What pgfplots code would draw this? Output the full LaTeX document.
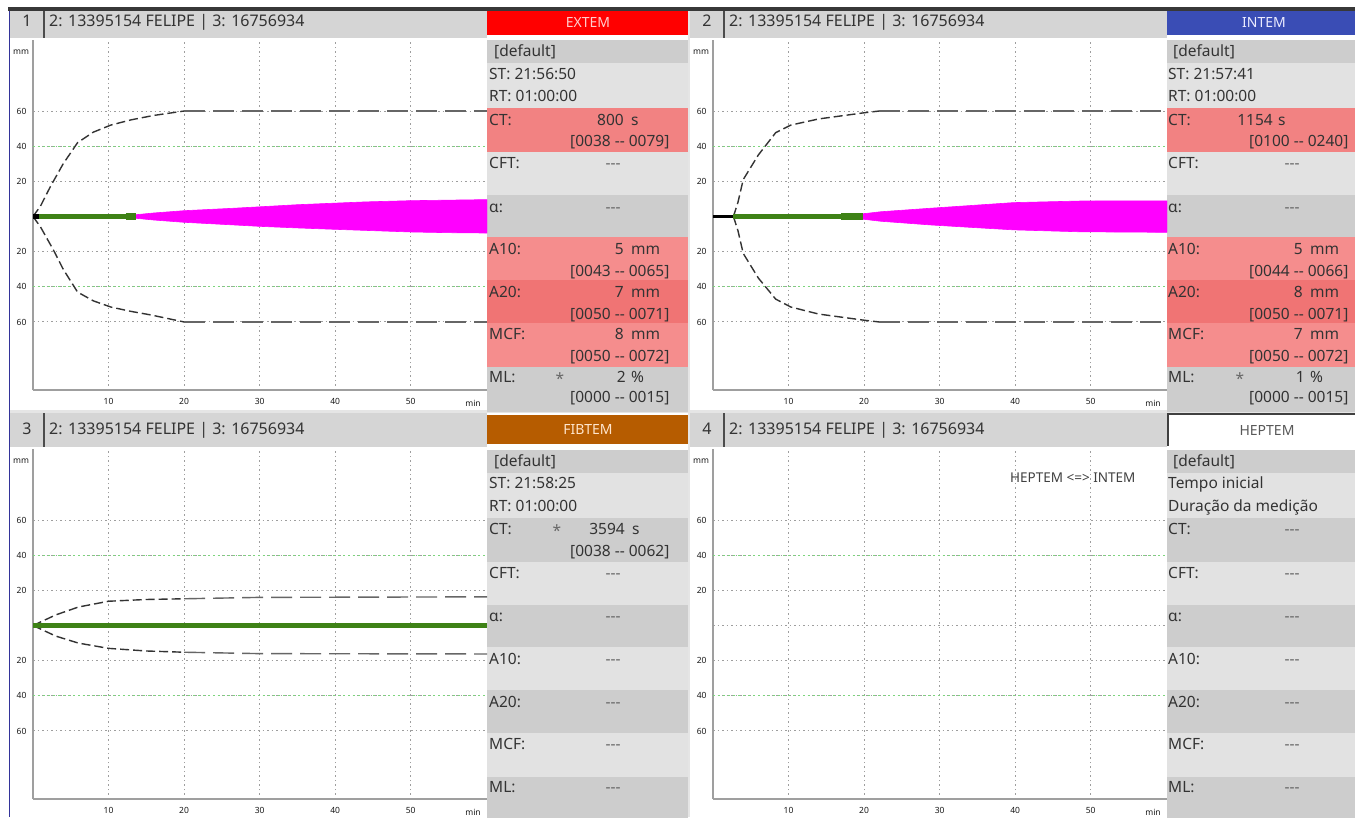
\documentclass[border=0pt]{standalone}
\usepackage{pgfplots}
\pgfplotsset{compat=1.18}
\usepackage{fontspec}
\setmainfont{Noto Sans}[Ligatures=TeXOff]
\definecolor{hdrgray}{HTML}{D5D5D5}
\definecolor{grayL}{HTML}{E2E2E2}
\definecolor{grayD}{HTML}{CDCDCD}
\definecolor{pinkA}{HTML}{F28282}
\definecolor{pinkB}{HTML}{F58D8D}
\definecolor{pinkC}{HTML}{F07474}
\definecolor{extem}{HTML}{FF0000}
\definecolor{intem}{HTML}{3A4DB5}
\definecolor{fibtem}{HTML}{B65C00}
\definecolor{sig}{RGB}{62,130,22}
\definecolor{txt}{HTML}{333333}
\definecolor{gridg}{HTML}{7CD67C}
\definecolor{gridgray}{HTML}{9E9E9E}
\definecolor{envA}{HTML}{333333}
\definecolor{envB}{HTML}{666666}
\definecolor{magb}{HTML}{FF00FF}

\newcommand{\pf}{\fontsize{15.5}{18}\selectfont}
\newcommand{\hf}{\fontsize{16}{18}\selectfont}
\newcommand{\tf}{\fontsize{8.5}{9}\selectfont\bfseries}
\tikzset{pnode/.style={inner sep=0pt,font=\pf,text=txt,text height=11pt,text depth=3pt}}
\newcommand{\lbl}[3]{\node[pnode,anchor=west] at (#1pt,-#2pt) {#3};}
\newcommand{\rlbl}[3]{\node[pnode,anchor=east] at (#1pt,-#2pt) {#3};}
\newcommand{\clbl}[3]{\node[pnode,anchor=center,text=black!60] at (#1pt,-#2pt) {#3};}
\newcommand{\hdr}[5]{%
 \fill[hdrgray] (#1pt+10pt,-#2pt) rectangle (#1pt+487pt,-#3pt);
 \draw[black!70,line width=1.5pt] (#1pt+44pt,-#2pt) -- (#1pt+44pt,-#3pt);
 \node[pnode,font=\hf] at (#1pt+27pt,-#4pt) {#5};
 \node[pnode,font=\hf,anchor=west] at (#1pt+49pt,-#4pt) {2: 13395154 FELIPE | 3: 16756934};
}
\newcommand{\siderows}[9]{%
 \fill[grayD] (#1pt,-#2pt-40pt) rectangle (#1pt+201pt,-#2pt-63pt);
 \fill[grayL] (#1pt,-#2pt-63pt) rectangle (#1pt+201pt,-#2pt-108pt);
 \fill[#3] (#1pt,-#2pt-108pt) rectangle (#1pt+201pt,-#2pt-152pt);
 \fill[#4] (#1pt,-#2pt-152pt) rectangle (#1pt+201pt,-#2pt-195pt);
 \fill[#5] (#1pt,-#2pt-195pt) rectangle (#1pt+201pt,-#2pt-237pt);
 \fill[#6] (#1pt,-#2pt-237pt) rectangle (#1pt+201pt,-#2pt-280pt);
 \fill[#7] (#1pt,-#2pt-280pt) rectangle (#1pt+201pt,-#2pt-323pt);
 \fill[#8] (#1pt,-#2pt-323pt) rectangle (#1pt+201pt,-#2pt-367pt);
 \fill[#9] (#1pt,-#2pt-367pt) rectangle (#1pt+201pt,-#2pt-412pt);
}

\pgfplotsset{
 rotem/.style={
  anchor=south west, scale only axis, width=454pt, height=350pt,
  xmin=0, xmax=60.1, ymin=-98.7, ymax=100.4,
  axis lines*=left, axis line style={draw=gray!75, line width=1.6pt, -},
  xtick={10,20,30,40,50}, xticklabels={10,20,30,40,50},
  ytick={-60,-40,-20,20,40,60}, yticklabels={60,40,20,20,40,60},
  grid=major, grid style={draw=gridgray, line width=1pt, dash pattern=on 1.5pt off 3pt},
  major tick length=0pt,
  tick label style={font=\tf, text=black!90},
  xticklabel style={yshift=-5pt},
  yticklabel style={xshift=-3pt},
  /pgf/number format/assume math mode=true,
  clip=true,
 },
 gline/.style={draw=gridg, line width=1.2pt, dash pattern=on 2pt off 3pt, forget plot},
 envA/.style={draw=envA, line width=1.4pt, dash pattern=on 9pt off 4pt},
 envB/.style={draw=envB, line width=1.4pt, dash pattern=on 21pt off 8pt},
 sigl/.style={draw=sig, line width=5pt},
}

\begin{document}
\begin{tikzpicture}
\useasboundingbox (0,0) rectangle (1355pt,-817pt);
\clip (0,0) rectangle (1355pt,-817pt);
\fill[white] (0,0) rectangle (1355pt,-817pt);
\fill[black!78] (8pt,-7pt) rectangle (1355pt,-11pt);
\fill[black!10] (688pt,-11pt) rectangle (690pt,-817pt);
\fill[black!10] (10pt,-410pt) rectangle (1355pt,-413pt);
\draw[blue!50!black!80,line width=1.5pt] (9.5pt,-11pt) -- (9.5pt,-817pt);

% ---------- headers ----------
\hdr{0}{11}{38}{22}{1}
\hdr{680}{11}{38}{22}{2}
\hdr{0}{413}{447}{430}{3}
\hdr{680}{413}{447}{430}{4}

\fill[extem] (487pt,-11pt) rectangle (688pt,-35pt);
\node[pnode,font=\fontsize{14}{16}\selectfont,text=red!20] at (588pt,-23pt) {EXTEM};
\fill[intem] (1167pt,-11pt) rectangle (1355pt,-35pt);
\node[pnode,font=\fontsize{14}{16}\selectfont,text=blue!8] at (1264pt,-23pt) {INTEM};
\fill[fibtem] (487pt,-415pt) rectangle (688pt,-444pt);
\node[pnode,font=\fontsize{14}{16}\selectfont,text=orange!20] at (588pt,-430pt) {FIBTEM};
\draw[black!75,line width=1.5pt] (1167.75pt,-446pt) -- (1167.75pt,-413.75pt) -- (1356pt,-413.75pt);
\node[pnode,font=\fontsize{14}{16}\selectfont,text=black!65] at (1267pt,-431pt) {HEPTEM};

% ---------- side rows ----------
\siderows{487}{0}{pinkA}{grayL}{grayD}{pinkB}{pinkC}{pinkB}{grayD}
\siderows{1167}{0}{pinkA}{grayL}{grayD}{pinkB}{pinkC}{pinkB}{grayD}
\siderows{487}{410}{grayD}{grayL}{grayD}{grayL}{grayD}{grayL}{grayD}
\siderows{1167}{410}{grayD}{grayL}{grayD}{grayL}{grayD}{grayL}{grayD}

% panel 1 text
\lbl{494}{52}{[default]}
\lbl{489}{75}{ST: 21:56:50}
\lbl{489}{97}{RT: 01:00:00}
\lbl{489}{121}{CT:}\rlbl{624}{121}{800}\lbl{631}{121}{s}
\lbl{570}{142}{[0038 -- 0079]}
\lbl{489}{164}{CFT:}\clbl{613}{164}{---}
\lbl{489}{208}{α:}\clbl{613}{208}{---}
\lbl{489}{250}{A10:}\rlbl{624}{250}{5}\lbl{631}{250}{mm}
\lbl{570}{272}{[0043 -- 0065]}
\lbl{489}{293}{A20:}\rlbl{624}{293}{7}\lbl{631}{293}{mm}
\lbl{570}{315}{[0050 -- 0071]}
\lbl{489}{335}{MCF:}\rlbl{624}{335}{8}\lbl{631}{335}{mm}
\lbl{570}{357}{[0050 -- 0072]}
\lbl{489}{378}{ML:}\clbl{560}{380}{*}\rlbl{626}{378}{2}\lbl{631}{378}{\%}
\lbl{570}{398}{[0000 -- 0015]}

% panel 2 text
\lbl{1173}{52}{[default]}
\lbl{1168}{75}{ST: 21:57:41}
\lbl{1168}{97}{RT: 01:00:00}
\lbl{1168}{121}{CT:}\rlbl{1273}{121}{1154}\lbl{1278}{121}{s}
\lbl{1249}{142}{[0100 -- 0240]}
\lbl{1168}{164}{CFT:}\clbl{1292}{164}{---}
\lbl{1168}{208}{α:}\clbl{1292}{208}{---}
\lbl{1168}{250}{A10:}\rlbl{1303}{250}{5}\lbl{1310}{250}{mm}
\lbl{1249}{272}{[0044 -- 0066]}
\lbl{1168}{293}{A20:}\rlbl{1303}{293}{8}\lbl{1310}{293}{mm}
\lbl{1249}{315}{[0050 -- 0071]}
\lbl{1168}{335}{MCF:}\rlbl{1303}{335}{7}\lbl{1310}{335}{mm}
\lbl{1249}{357}{[0050 -- 0072]}
\lbl{1168}{378}{ML:}\clbl{1240}{380}{*}\rlbl{1305}{378}{1}\lbl{1310}{378}{\%}
\lbl{1249}{398}{[0000 -- 0015]}

% panel 3 text
\lbl{494}{462}{[default]}
\lbl{489}{484}{ST: 21:58:25}
\lbl{489}{507}{RT: 01:00:00}
\lbl{489}{530}{CT:}\clbl{557}{532}{*}\rlbl{625}{530}{3594}\lbl{632}{530}{s}
\lbl{570}{552}{[0038 -- 0062]}
\lbl{489}{574}{CFT:}\clbl{613}{574}{---}
\lbl{489}{617}{α:}\clbl{613}{617}{---}
\lbl{489}{660}{A10:}\clbl{613}{660}{---}
\lbl{489}{703}{A20:}\clbl{613}{703}{---}
\lbl{489}{745}{MCF:}\clbl{613}{745}{---}
\lbl{489}{788}{ML:}\clbl{613}{788}{---}

% panel 4 text
\lbl{1173}{462}{[default]}
\lbl{1168}{484}{Tempo inicial}
\lbl{1168}{507}{Duração da medição}
\lbl{1168}{530}{CT:}\clbl{1292}{530}{---}
\lbl{1168}{574}{CFT:}\clbl{1292}{574}{---}
\lbl{1168}{617}{α:}\clbl{1292}{617}{---}
\lbl{1168}{660}{A10:}\clbl{1292}{660}{---}
\lbl{1168}{703}{A20:}\clbl{1292}{703}{---}
\lbl{1168}{745}{MCF:}\clbl{1292}{745}{---}
\lbl{1168}{788}{ML:}\clbl{1292}{788}{---}

% axis unit labels
\node[font=\tf,text=black!90] at (21pt,-52pt) {mm};
\node[font=\tf,text=black!90] at (701pt,-52pt) {mm};
\node[font=\tf,text=black!90] at (21pt,-461pt) {mm};
\node[font=\tf,text=black!90] at (701pt,-461pt) {mm};
\node[font=\tf,text=black!90] at (473pt,-403pt) {min};
\node[font=\tf,text=black!90] at (1153pt,-403pt) {min};
\node[font=\tf,text=black!90] at (473pt,-812pt) {min};
\node[font=\tf,text=black!90] at (1153pt,-812pt) {min};

% ---------- panel 1: EXTEM ----------
\begin{axis}[rotem, at={(33pt,-390pt)}]
\addplot[gline] coordinates {(0,40)(60.1,40)};
\addplot[gline] coordinates {(0,-40)(60.1,-40)};
\addplot[envA] coordinates {(0,0)(1,6)(2.3,17)(4,30)(5.9,42)(8,48)(10.3,52)(13,55)(16,57.5)(20,60)};
\addplot[envB] coordinates {(20,60)(60.1,60)};
\addplot[envA] coordinates {(0,0)(1,-6)(2.7,-19)(4,-30)(5.9,-43)(8,-48)(10.3,-51.5)(13,-54)(15.6,-56)(20,-60)};
\addplot[envB] coordinates {(20,-60)(60.1,-60)};
\addplot[fill=magb, draw=magb, line width=0.6pt] coordinates {(13.6,1)(16,2)(20,3.3)(26.6,4.7)(30,5.5)(35,6.7)(40,7.6)(44,8.3)(50,9)(55,9.3)(60.1,9.6)(60.1,-9.4)(55,-9.2)(50,-8.8)(44,-7.9)(40,-7.3)(35,-6.5)(30,-5.6)(26.6,-4.8)(20,-3.3)(16,-2)(13.6,-1)};
\addplot[sigl] coordinates {(0,0)(13.6,0)};
\addplot[draw=sig, line width=7pt] coordinates {(12.3,0)(13.6,0)};
\addplot[draw=black, line width=5pt] coordinates {(0,0)(0.8,0)};
\end{axis}

% ---------- panel 2: INTEM ----------
\begin{axis}[rotem, at={(713pt,-390pt)}]
\addplot[gline] coordinates {(0,40)(60.1,40)};
\addplot[gline] coordinates {(0,-40)(60.1,-40)};
\addplot[envA] coordinates {(2.7,0)(3.3,8)(4,21)(6,35)(8.3,47.7)(10.3,52)(14,55.5)(20,59)(22,60)};
\addplot[envB] coordinates {(22,60)(60.1,60)};
\addplot[envA] coordinates {(2.7,0)(3.3,-8)(4,-21)(6,-35)(8.3,-47)(10.3,-51.5)(14,-55.5)(20,-59)(22,-60)};
\addplot[envB] coordinates {(22,-60)(60.1,-60)};
\addplot[fill=magb, draw=magb, line width=0.6pt] coordinates {(19.8,1.5)(22.2,2.7)(28.8,4.7)(35,6.5)(39.8,7.9)(48.6,8.8)(60.1,8.9)(60.1,-9)(48.6,-8.7)(39.8,-7.6)(35,-6.4)(28.8,-4.8)(22.2,-2.7)(19.8,-1.5)};
\addplot[draw=black, line width=3.5pt] coordinates {(0,0)(2.7,0)};
\addplot[sigl] coordinates {(2.7,0)(19.8,0)};
\addplot[draw=sig, line width=7pt] coordinates {(17,0)(19.8,0)};
\end{axis}

% ---------- panel 3: FIBTEM ----------
\begin{axis}[rotem, at={(33pt,-799pt)}]
\addplot[gline] coordinates {(0,40)(60.1,40)};
\addplot[gline] coordinates {(0,-40)(60.1,-40)};
\addplot[envA] coordinates {(0,0)(3,6)(6,10.5)(10,13.8)(15,14.8)(20,15.2)};
\addplot[envB] coordinates {(20,15.2)(30,16)(60.1,16.3)};
\addplot[envA] coordinates {(0,0)(3,-6)(6,-10)(10,-13)(15,-14.5)(20,-15.2)};
\addplot[envB] coordinates {(20,-15.2)(30,-16)(60.1,-16.2)};
\addplot[sigl, line width=5.5pt] coordinates {(0,0)(60.1,0)};
\end{axis}

% ---------- panel 4: HEPTEM ----------
\begin{axis}[rotem, at={(713pt,-799pt)}, ytick={-60,-40,-20,0,20,40,60}, yticklabels={60,40,20,,20,40,60}]
\addplot[gline] coordinates {(0,40)(60.1,40)};
\addplot[gline] coordinates {(0,-40)(60.1,-40)};
\end{axis}
\node[anchor=west,inner sep=0pt,font=\fontsize{13.5}{15}\selectfont,text=black!75] at (1010pt,-478pt) {HEPTEM <=> INTEM};
\end{tikzpicture}
\end{document}
